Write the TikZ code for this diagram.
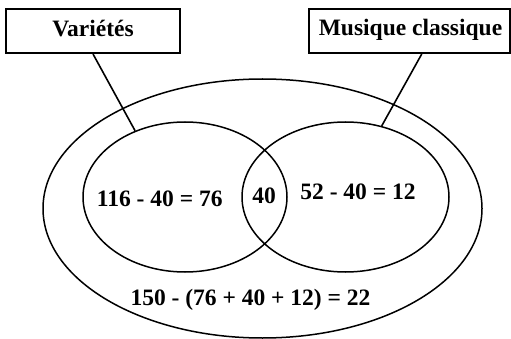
\documentclass[tikz,border=0pt]{standalone}
\usepackage{fontspec}
\setmainfont{Liberation Serif}
\usetikzlibrary{shapes.geometric,calc}
\begin{document}
\begin{tikzpicture}[x=1pt,y=-1pt,
  set/.style={draw,ellipse,line width=1.5pt,inner sep=0pt},
  labelbox/.style={draw,rectangle,line width=2pt,inner sep=0pt},
  link/.style={line width=1.6pt},
  txt/.style={anchor=base,inner sep=0pt,font=\fontsize{23.5}{28}\selectfont\bfseries},
]
\useasboundingbox (0,0) rectangle (511,339);

% universe and the two sets
\node[set,minimum width=439pt,minimum height=259pt] (U) at (262.5,208.5) {};
\node[set,minimum width=204pt,minimum height=150pt] (V) at (185,197) {};
\node[set,minimum width=207pt,minimum height=150pt] (M) at (345.5,197) {};

% label boxes
\node[labelbox,minimum width=174pt,minimum height=44pt] (vbox) at (93,31) {};
\node[labelbox,minimum width=200.5pt,minimum height=44pt] (mbox) at (409.25,31) {};
\node[txt] (vtxt) at (93,36.7) {Variétés};
\node[txt] (mtxt) at (410.5,35.7) {Musique classique};

% connectors from boxes to sets
\coordinate (mfoot) at ($(mbox.south)+(12.5,0)$);
\draw[link] (vbox.south) -- (V.127);
\draw[link] (mfoot) -- (M.63);

% region counts
\node[txt] (a) at (159.7,206.5) {116 - 40 = 76};
\node[txt] (b) at (264,204) {40};
\node[txt] (c) at (358,200) {52 - 40 = 12};
\node[txt] (d) at (250.5,305) {150 - (76 + 40 + 12) = 22};
\end{tikzpicture}
\end{document}
